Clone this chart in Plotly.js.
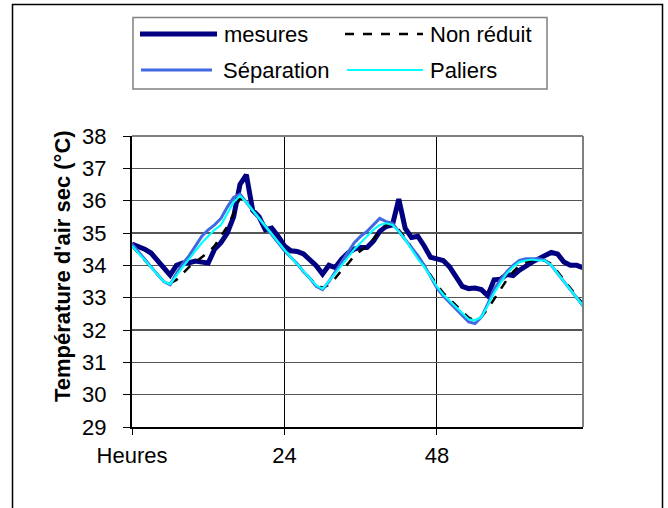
<!DOCTYPE html>
<html>
<head>
<meta charset="utf-8">
<script src="https://cdn.plot.ly/plotly-3.0.1.min.js"></script>
<style>html,body{margin:0;padding:0;background:#fff;}#chart{width:668px;height:508px;}</style>
</head>
<body>
<div id="chart"></div>
<script>
// Hours 0..71
const hours = Array.from({length: 72}, (_, i) => i);

const mesures = [34.66,34.6,34.5,34.38,34.15,33.9,33.7,34.0,34.07,34.08,34.13,34.1,34.07,34.5,34.7,35.0,35.5,36.5,36.8,35.7,35.5,35.1,35.15,34.9,
34.6,34.45,34.43,34.35,34.15,33.99,33.73,34.0,33.93,34.19,34.38,34.5,34.55,34.55,34.75,35.05,35.2,35.25,36.05,35.15,34.86,34.9,34.6,34.25,
34.2,34.15,33.95,33.65,33.35,33.28,33.3,33.25,33.06,33.55,33.57,33.72,33.68,33.85,33.99,34.1,34.2,34.3,34.4,34.35,34.1,34.0,34.0,33.93];

const nonReduit = [34.6,34.38,34.15,33.92,33.7,33.5,33.45,33.55,33.75,33.95,34.1,34.25,34.4,34.6,34.9,35.2,35.6,36.1,35.95,35.7,35.45,35.2,34.95,34.7,
34.48,34.25,34.05,33.82,33.6,33.4,33.3,33.4,33.6,33.85,34.05,34.3,34.45,34.6,34.8,35.05,35.25,35.3,35.1,34.85,34.55,34.25,34.0,33.7,
33.4,33.15,32.95,32.75,32.55,32.38,32.3,32.4,32.65,32.95,33.25,33.55,33.8,34.0,34.1,34.15,34.15,34.15,34.05,33.8,33.55,33.3,33.05,32.8];

const separation = [34.66,34.42,34.2,33.95,33.72,33.5,33.4,33.75,34.05,34.3,34.6,34.9,35.1,35.25,35.45,35.8,36.1,36.2,35.95,35.7,35.45,35.2,34.95,34.7,
34.45,34.25,34.05,33.8,33.6,33.35,33.25,33.5,33.8,34.1,34.4,34.7,34.9,35.05,35.25,35.45,35.35,35.3,35.05,34.8,34.55,34.3,34.0,33.65,
33.3,33.05,32.85,32.65,32.45,32.25,32.2,32.4,32.8,33.25,33.55,33.8,34.0,34.15,34.2,34.2,34.2,34.15,34.0,33.75,33.5,33.25,33.0,32.75];

const paliers = [34.6,34.38,34.15,33.92,33.7,33.5,33.42,33.7,33.95,34.2,34.45,34.7,34.9,35.1,35.25,35.6,35.95,36.15,35.95,35.7,35.45,35.2,34.95,34.7,
34.48,34.25,34.05,33.82,33.6,33.38,33.27,33.5,33.75,34.0,34.25,34.5,34.7,34.9,35.1,35.25,35.3,35.25,35.05,34.8,34.5,34.2,33.95,33.65,
33.35,33.1,32.9,32.7,32.5,32.33,32.3,32.4,32.75,33.15,33.45,33.75,33.95,34.1,34.15,34.18,34.15,34.15,34.0,33.75,33.5,33.25,33.0,32.75];

const seriesNames = ["mesures", "Non réduit", "Séparation", "Paliers"];
const seriesData = [mesures, nonReduit, separation, paliers];
const seriesColors = ["#000080", "#000000", "#4169E1", "#00FFFF"];
const seriesWidths = [5, 2.5, 3, 2.2];
const seriesDash = ["solid", "dash", "solid", "solid"];

const xTickVals = [0, 24, 48];
const xTickText = ["Heures", "24", "48"];
const yTickVals = [29,30,31,32,33,34,35,36,37,38];

const W = 668, H = 508;
const L = 132, R = 583, T = 136, B = 427;
const px = x => (x - L) / (R - L);
const py = y => (B - y) / (B - T);

const traces = seriesData.map((d, i) => ({
  x: hours, y: d, type: "scatter", mode: "lines", name: seriesNames[i],
  line: {color: seriesColors[i], width: seriesWidths[i], dash: seriesDash[i]},
  showlegend: false, hoverinfo: "skip"
}));

const font = "Liberation Sans, Arial, sans-serif";
const shapes = [
  {type: "rect", xref: "paper", yref: "paper", x0: px(12.5), x1: px(662.5), y0: py(4.5), y1: py(515), line: {color: "#000", width: 1.5}},
  {type: "line", xref: "paper", yref: "paper", x0: 0, x1: 1, y0: 1, y1: 1, line: {color: "#808080", width: 2}},
  {type: "line", xref: "paper", yref: "paper", x0: 1, x1: 1, y0: 0, y1: 1, line: {color: "#808080", width: 2}},
  {type: "rect", xref: "paper", yref: "paper", x0: px(133), x1: px(547), y0: py(17.5), y1: py(89), line: {color: "#808080", width: 1.5}, fillcolor: "rgba(0,0,0,0)"}
];
const annotations = [
  {xref: "paper", yref: "paper", x: px(62), y: py(266), text: "<b>Température d'air sec (°C)</b>", textangle: -90,
   showarrow: false, font: {family: font, size: 22, color: "#000"}, xanchor: "center", yanchor: "middle"}
];
const legPos = [[140, 217, 34, 222], [345, 423, 34, 428], [141, 212, 70, 221], [347, 423, 70, 428]];
seriesNames.forEach((n, i) => {
  const p = legPos[i];
  shapes.push({type: "line", xref: "paper", yref: "paper", x0: px(p[0]), x1: px(p[1]), y0: py(p[2]), y1: py(p[2]),
    line: {color: seriesColors[i], width: seriesWidths[i], dash: seriesDash[i]}});
  annotations.push({xref: "paper", yref: "paper", x: px(p[3]), y: py(p[2] + 1), text: n, showarrow: false,
    xanchor: "left", yanchor: "middle", font: {family: font, size: 22, color: "#000"}});
});

const layout = {
  width: W, height: H,
  margin: {l: L, r: W - R, t: T, b: H - B, pad: 0},
  paper_bgcolor: "#fff", plot_bgcolor: "#fff",
  showlegend: false,
  xaxis: {
    range: [0, 71], tickvals: xTickVals, ticktext: xTickText, showgrid: true, gridcolor: "#000", gridwidth: 1,
    zeroline: false, showline: true, linecolor: "#000", linewidth: 2, ticks: "outside", ticklen: 6, tickcolor: "#000", tickwidth: 1,
    tickfont: {family: font, size: 22, color: "#000"}, ticklabelstandoff: 2, fixedrange: true
  },
  yaxis: {
    range: [29, 38], tickvals: yTickVals, showgrid: true, gridcolor: "#555", gridwidth: 1.5,
    zeroline: false, showline: true, linecolor: "#000", linewidth: 2, ticks: "outside", ticklen: 7, tickcolor: "#000", tickwidth: 1,
    tickfont: {family: font, size: 22, color: "#000"}, ticklabelstandoff: 12, fixedrange: true
  },
  shapes: shapes, annotations: annotations
};

Plotly.newPlot("chart", traces, layout, {staticPlot: true, displayModeBar: false});
</script>
</body>
</html>
